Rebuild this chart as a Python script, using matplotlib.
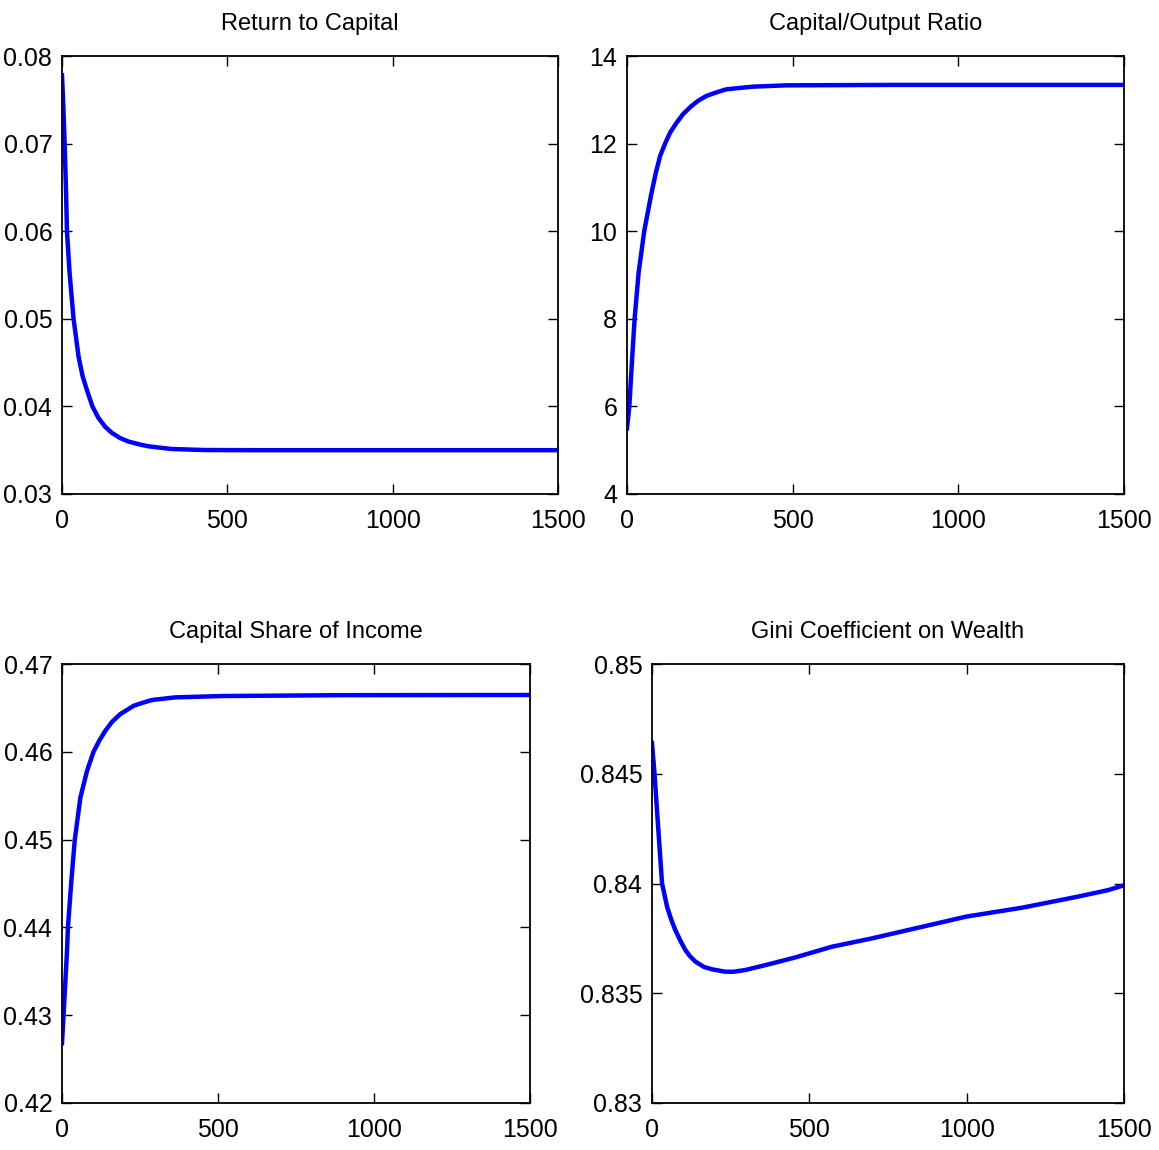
import matplotlib
matplotlib.use("Agg")
import matplotlib.pyplot as plt
from matplotlib import font_manager

names = {f.name for f in font_manager.fontManager.ttflist}
family = ["Liberation Sans Narrow"] if "Liberation Sans Narrow" in names else ["Liberation Sans"]
plt.rcParams["font.family"] = family + ["DejaVu Sans"]

# Return to capital
r_t = [0, 4, 8, 12, 15, 23, 35, 50, 62, 75, 92, 110, 130, 150, 175, 200, 230, 260,
       330, 430, 600, 1000, 1500]
r_v = [0.0778, 0.0743, 0.0700, 0.0648, 0.0600, 0.0552, 0.0500, 0.0457, 0.0435,
       0.0419, 0.0400, 0.0387, 0.0377, 0.0370, 0.0364, 0.0360, 0.0357, 0.03545,
       0.03514, 0.03502, 0.0350, 0.0350, 0.0350]

# Capital/output ratio
ky_t = [0, 7, 15, 23, 35, 52, 72, 86, 100, 115, 130, 150, 170, 195, 215, 240, 270,
        300, 380, 480, 800, 1500]
ky_v = [5.5, 6.0, 7.03, 8.0, 9.05, 10.0, 10.8, 11.3, 11.72, 12.0, 12.25, 12.48,
        12.68, 12.86, 12.98, 13.09, 13.17, 13.24, 13.30, 13.33, 13.34, 13.34]

# Capital share of income
cs_t = [0, 5, 16, 19, 30, 41, 59, 80, 101, 120, 139, 160, 187, 210, 230, 260, 288,
        363, 513, 900, 1500]
cs_v = [0.4268, 0.4300, 0.4373, 0.4400, 0.4453, 0.4500, 0.4548, 0.4578, 0.4600,
        0.4613, 0.4624, 0.4634, 0.4643, 0.4648, 0.46525, 0.4656, 0.4659, 0.4662,
        0.46635, 0.46645, 0.46647]

# Gini coefficient on wealth
g_t = [0, 8, 18, 32, 48, 60, 74, 90, 106, 120, 138, 165, 191, 233, 260, 297, 360,
       455, 572, 699, 805, 998, 1177, 1353, 1450, 1500]
g_v = [0.8464, 0.8450, 0.84289, 0.8400, 0.83894, 0.8384, 0.83788, 0.8374, 0.83697,
       0.8367, 0.83644, 0.8362, 0.83609, 0.83598, 0.83598, 0.83606, 0.83628,
       0.83663, 0.83712, 0.8375, 0.83785, 0.83849, 0.8389, 0.8394, 0.8397, 0.83992]

W, H = 1159, 1150
panels = [
    ("Return to Capital", r_t, r_v, (0.03, 0.08), [0.03, 0.04, 0.05, 0.06, 0.07, 0.08],
     ["0.03", "0.04", "0.05", "0.06", "0.07", "0.08"], (62, 56, 558, 494)),
    ("Capital/Output Ratio", ky_t, ky_v, (4, 14), [4, 6, 8, 10, 12, 14],
     ["4", "6", "8", "10", "12", "14"], (627, 56, 1124, 494)),
    ("Capital Share of Income", cs_t, cs_v, (0.42, 0.47), [0.42, 0.43, 0.44, 0.45, 0.46, 0.47],
     ["0.42", "0.43", "0.44", "0.45", "0.46", "0.47"], (62, 664, 530, 1103)),
    ("Gini Coefficient on Wealth", g_t, g_v, (0.83, 0.85), [0.83, 0.835, 0.84, 0.845, 0.85],
     ["0.83", "0.835", "0.84", "0.845", "0.85"], (652, 664, 1124, 1103)),
]

fig = plt.figure(figsize=(W / 100, H / 100), dpi=100)
for title, t, v, ylim, yt, ylab, (x0, y0, x1, y1) in panels:
    ax = fig.add_axes([x0 / W, 1 - y1 / H, (x1 - x0) / W, (y1 - y0) / H])
    ax.plot(t, v, color="#0000ff", lw=3.2, solid_joinstyle="round")
    ax.set_xlim(0, 1500)
    ax.set_ylim(*ylim)
    ax.set_xticks([0, 500, 1000, 1500])
    ax.set_xticklabels(["0", "500", "1000", "1500"])
    ax.set_yticks(yt)
    ax.set_yticklabels(ylab)
    ax.tick_params(direction="in", length=7, width=1, top=True, right=True,
                   labelsize=18, pad=7)
    ax.tick_params(axis="x", pad=11)
    for s in ax.spines.values():
        s.set_linewidth(1.3)
    ax.set_title(title, fontsize=17, pad=19)

fig.savefig("out.png", dpi=100)
